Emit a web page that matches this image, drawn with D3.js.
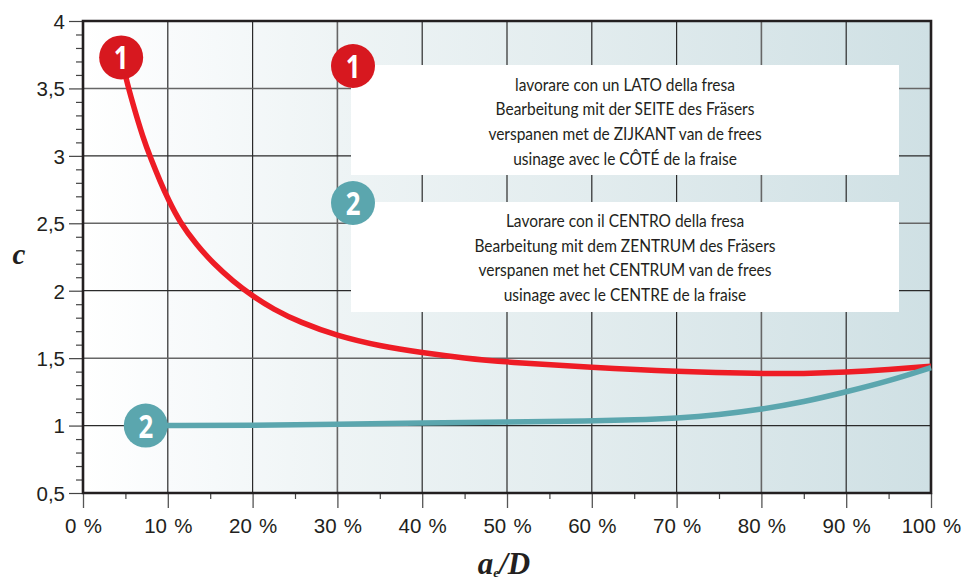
<!DOCTYPE html>
<html><head><meta charset="utf-8">
<script src="https://cdn.jsdelivr.net/npm/d3@7"></script>
<style>html,body{margin:0;background:#fff}svg{display:block}</style></head>
<body><svg id="c" width="962" height="581"></svg>
<script>
const xTicks=[0,10,20,30,40,50,60,70,80,90,100];
const yTicks=[0.5,1,1.5,2,2.5,3,3.5,4];
const redX=[4.6,5,5.9,7.1,8,9.1,10.1,11.4,13.4,15.4,17.7,20,22.4,25.6,30,35,40,45,50,60,70,80,85,90,95,100];
const redY=[3.72,3.59,3.38,3.13,2.98,2.81,2.67,2.51,2.34,2.2,2.07,1.96,1.865,1.765,1.665,1.59,1.54,1.5,1.47,1.43,1.4,1.385,1.385,1.395,1.415,1.44];
const tealX=[8,10,20,30,40,50,60,65,70,75,80,85,90,95,100];
const tealY=[1,1,1,1.01,1.02,1.025,1.035,1.042,1.055,1.08,1.12,1.175,1.25,1.33,1.43];
const legend1=["lavorare con un LATO della fresa","Bearbeitung mit der SEITE des Fräsers","verspanen met de ZIJKANT van de frees","usinage avec le CÔTÉ de la fraise"];
const legend2=["Lavorare con il CENTRO della fresa","Bearbeitung mit dem ZENTRUM des Fräsers","verspanen met het CENTRUM van de frees","usinage avec le CENTRE de la fraise"];
const RED="#ee1c25",REDB="#d7181f",TEAL="#5ba6ae",INK="#231f20";

const svg=d3.select("#c");
const L=83,R=931,T=21,B=493;
const x=d3.scaleLinear().domain([0,100]).range([L,R]);
const y=d3.scaleLinear().domain([0.5,4]).range([B,T]);

const g=svg.append("defs").append("linearGradient").attr("id","bg");
[[0,"#ffffff"],[0.1,"#f9fbfc"],[0.3,"#eef4f5"],[0.6,"#e2ecee"],[1,"#cfe0e4"]].forEach(s=>g.append("stop").attr("offset",s[0]).attr("stop-color",s[1]));
svg.append("rect").attr("x",L).attr("y",T).attr("width",R-L).attr("height",B-T).attr("fill","url(#bg)");

const gx=svg.append("g").attr("transform",`translate(0,${B})`).call(d3.axisBottom(x).tickValues(xTicks).tickSize(15).tickFormat(d=>d+" %"));
gx.select(".domain").remove();
gx.selectAll("line").attr("stroke","#555").attr("stroke-width",1.3);
gx.selectAll("text").attr("dy",0).attr("y",40).attr("font-family","Liberation Sans").attr("font-size",20.5).attr("word-spacing",1.5).attr("fill",INK);
const gxm=svg.append("g").attr("transform",`translate(0,${B})`).call(d3.axisBottom(x).tickValues(d3.range(5,100,10)).tickSize(6).tickFormat(""));
gxm.select(".domain").remove();
gxm.selectAll("line").attr("stroke","#444").attr("stroke-width",1.2);

const gy=svg.append("g").attr("transform",`translate(${L},0)`).call(d3.axisLeft(y).tickValues(yTicks).tickSize(14).tickFormat(d=>String(d).replace(".",",")));
gy.select(".domain").remove();
gy.selectAll("line").attr("stroke","#444").attr("stroke-width",1.2);
gy.selectAll("text").attr("x",-18).attr("dy","0.36em").attr("font-family","Liberation Sans").attr("font-size",20.5).attr("fill",INK);
const minor=d3.range(0.6,4,0.1).filter(v=>Math.abs(v*2-Math.round(v*2))>0.01);
const gym=svg.append("g").attr("transform",`translate(${L},0)`).call(d3.axisLeft(y).tickValues(minor).tickSize(7).tickFormat(""));
gym.select(".domain").remove();
gym.selectAll("line").attr("stroke","#444").attr("stroke-width",1.2);

svg.append("g").selectAll("line").data(xTicks.slice(1,-1)).join("line")
 .attr("x1",d=>x(d)).attr("x2",d=>x(d)).attr("y1",T).attr("y2",B)
 .attr("stroke",d=>d==30||d==80?"#666":"#2a2a2a").attr("stroke-width",d=>d==30||d==80?1.6:1.2);
svg.append("g").selectAll("line").data(yTicks.slice(1,-1)).join("line")
 .attr("x1",L).attr("x2",R).attr("y1",d=>y(d)).attr("y2",d=>y(d))
 .attr("stroke",d=>d==3.5||d==1.5||d==2.5?"#666":"#2a2a2a").attr("stroke-width",d=>d==3.5||d==1.5||d==2.5?1.5:1.2);

const boxes=[{t:65,lines:legend1,ys:[85,109,134,159]},{t:202,lines:legend2,ys:[221,246,270,295]}];
boxes.forEach(b=>{
 svg.append("rect").attr("x",351).attr("y",b.t).attr("width",548).attr("height",110).attr("fill","#fff");
 svg.append("g").selectAll("text").data(b.lines).join("text")
  .attr("x",625).attr("y",(d,i)=>b.ys[i]).attr("dy","0.35em").attr("text-anchor","middle")
  .attr("font-family","Lato").attr("font-size",16.5).attr("fill",INK)
  .attr("transform",`translate(${625*(1-0.94)},0) scale(0.94,1)`).text(d=>d);
});

svg.append("path").attr("d",`M${L},${T}H${R}V${B}H${L}Z`).attr("fill","none").attr("stroke",INK).attr("stroke-width",2.6);

const line=d3.line().x(d=>x(d[0])).y(d=>y(d[1])).curve(d3.curveBasis);
svg.append("path").attr("d",line(d3.zip(redX,redY))).attr("fill","none").attr("stroke",RED).attr("stroke-width",5.5);
svg.append("path").attr("d",line(d3.zip(tealX,tealY))).attr("fill","none").attr("stroke",TEAL).attr("stroke-width",5.5);

const badges=[{cx:x(4.5),cy:y(3.73),c:REDB,t:"1"},{cx:x(7.4),cy:y(1),c:TEAL,t:"2"},{cx:353,cy:66,c:REDB,t:"1"},{cx:353,cy:203,c:TEAL,t:"2"}];
badges.forEach(b=>{
 svg.append("circle").attr("cx",b.cx).attr("cy",b.cy).attr("r",22).attr("fill",b.c);
 svg.append("text").attr("transform",`translate(${b.cx},${b.cy+12}) scale(0.78,1)`)
  .attr("text-anchor","middle").attr("font-family","Open Sans").attr("font-weight",700).attr("font-size",33).attr("fill","#fff").text(b.t);
});

svg.append("text").attr("x",19).attr("y",264).attr("text-anchor","middle").attr("font-family","Liberation Serif").attr("font-style","italic").attr("font-weight",700).attr("font-size",29).attr("fill",INK).text("c");
const xt=svg.append("text").attr("x",504).attr("y",574).attr("text-anchor","middle").attr("font-family","Liberation Serif").attr("font-style","italic").attr("font-weight",700).attr("font-size",31).attr("fill",INK);
xt.append("tspan").text("a");
xt.append("tspan").attr("font-size",13).attr("dy",3).text("e");
xt.append("tspan").attr("dy",-3).text("/D");
</script></body></html>
